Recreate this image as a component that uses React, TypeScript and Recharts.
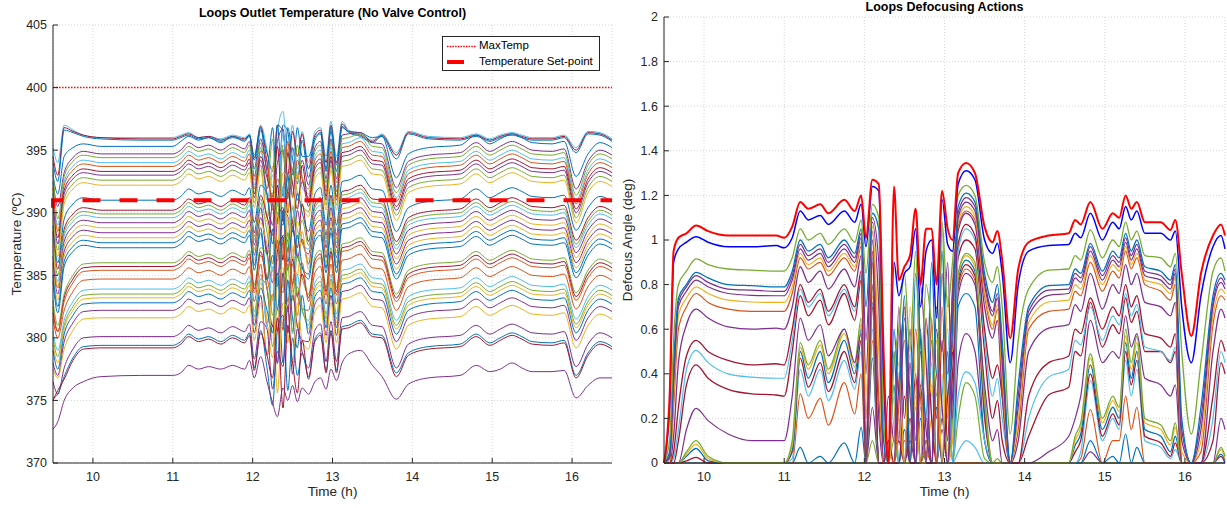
import React from 'react';
import { LineChart, Line, XAxis, YAxis, CartesianGrid, Legend } from 'recharts';

const FONT = '"Liberation Sans", Arial, Helvetica, sans-serif';
const INK = '#262626';
const GRID = '#d4d4d4';

// ---------- axes ----------
const HOUR_TICKS = [10, 11, 12, 13, 14, 15, 16];
const TEMP_TICKS = [370, 375, 380, 385, 390, 395, 400, 405];
const ANGLE_TICKS = [0, 0.2, 0.4, 0.6, 0.8, 1, 1.2, 1.4, 1.6, 1.8, 2];
const MAX_TEMP = 400;
const SET_POINT = 391;
const SET_POINT_START = 390.4;

// ---------- outlet temperatures (ºC) ----------
const TIME_T = [9.5, 9.56, 9.64, 9.75, 9.88, 10.1, 10.6, 11.0, 11.1, 11.2, 11.32, 11.45, 11.6, 11.75, 11.9, 11.96, 12.02, 12.1, 12.18, 12.25, 12.31, 12.38, 12.44, 12.5, 12.56, 12.62, 12.7, 12.78, 12.85, 12.92, 12.98, 13.05, 13.12, 13.2, 13.35, 13.5, 13.62, 13.8, 13.95, 14.2, 14.6, 14.8, 14.97, 15.1, 15.25, 15.37, 15.5, 15.75, 15.9, 16.05, 16.2, 16.35, 16.5];

const LOOP_TEMPS: number[][] = [
  [395.2, 394.0, 397.0, 396.6, 396.2, 396.0, 396.0, 396.0, 396.2, 396.4, 396.0, 396.1, 395.9, 396.2, 396.0, 396.3, 394.6, 397.0, 395.0, 392.0, 396.5, 398.1, 394.5, 397.0, 393.5, 396.5, 394.0, 396.5, 396.8, 394.5, 397.3, 394.5, 397.3, 396.6, 396.3, 395.8, 396.3, 394.8, 396.5, 396.1, 396.0, 396.3, 395.9, 396.2, 396.4, 396.2, 396.0, 396.0, 396.2, 395.2, 396.5, 396.4, 395.9],
  [394.5, 393.0, 396.8, 396.5, 396.2, 396.0, 395.9, 395.9, 396.1, 396.3, 396.0, 396.1, 395.8, 396.1, 395.9, 396.2, 394.4, 396.9, 394.0, 391.0, 397.0, 396.5, 393.0, 396.5, 394.5, 396.3, 393.5, 396.2, 396.6, 394.0, 397.0, 394.0, 397.1, 396.5, 396.2, 395.7, 396.2, 394.6, 396.4, 396.0, 395.9, 396.2, 395.8, 396.1, 396.3, 396.1, 395.9, 395.9, 396.1, 395.0, 396.4, 396.3, 395.8],
  [394.0, 392.5, 396.6, 396.4, 396.1, 395.9, 395.8, 395.8, 396.0, 396.2, 395.9, 396.0, 395.7, 396.0, 395.8, 396.1, 394.2, 396.8, 393.5, 396.8, 391.0, 397.0, 396.5, 393.0, 396.8, 394.5, 394.5, 396.0, 396.4, 393.5, 396.8, 393.8, 396.9, 396.4, 396.1, 395.6, 396.1, 394.3, 396.3, 395.9, 395.8, 396.1, 395.7, 396.0, 396.2, 396.0, 395.8, 395.8, 396.0, 394.8, 396.3, 396.2, 395.7],
  [393.0, 391.5, 394.5, 395.2, 395.5, 395.3, 395.3, 395.3, 395.7, 396.1, 395.8, 396.0, 395.6, 396.1, 395.7, 396.2, 393.5, 396.6, 394.8, 393.3, 397.0, 391.3, 396.8, 394.3, 392.3, 395.8, 392.8, 395.8, 396.3, 393.3, 396.5, 393.3, 396.8, 396.5, 396.4, 396.0, 396.1, 392.8, 394.7, 395.2, 395.4, 396.2, 395.5, 395.9, 396.3, 396.0, 395.6, 395.5, 395.7, 392.9, 394.7, 395.6, 395.2],
  [392.5, 390.5, 393.2, 394.4, 394.9, 394.7, 394.7, 394.7, 395.0, 395.6, 395.2, 395.4, 395.0, 395.5, 395.1, 395.7, 392.9, 395.9, 393.2, 390.7, 395.7, 396.7, 391.7, 395.2, 392.7, 394.2, 392.2, 395.2, 395.7, 392.7, 395.9, 392.7, 396.2, 396.3, 396.4, 395.6, 395.5, 392.0, 394.1, 394.6, 394.8, 395.6, 394.9, 395.3, 395.7, 395.4, 395.0, 394.9, 395.1, 391.9, 394.1, 395.0, 394.6],
  [393.5, 389.5, 392.9, 394.1, 394.6, 394.4, 394.4, 394.4, 394.7, 395.3, 394.9, 395.1, 394.7, 395.2, 394.8, 395.4, 392.6, 395.6, 391.9, 395.9, 389.4, 395.4, 394.9, 391.4, 395.4, 392.9, 391.9, 394.9, 395.4, 392.4, 395.6, 392.4, 395.9, 396.0, 396.3, 395.3, 395.2, 391.6, 393.8, 394.3, 394.5, 395.3, 394.6, 395.0, 395.4, 395.1, 394.7, 394.6, 394.8, 391.4, 393.8, 394.7, 394.3],
  [391.5, 389.0, 392.5, 393.7, 394.2, 394.0, 394.0, 394.0, 394.3, 394.9, 394.5, 394.7, 394.3, 394.8, 394.4, 395.0, 392.2, 395.2, 391.0, 393.0, 390.5, 396.5, 392.5, 395.0, 393.0, 392.0, 391.5, 394.5, 395.0, 392.0, 395.2, 392.0, 395.5, 395.6, 396.0, 394.9, 394.8, 391.2, 393.4, 393.9, 394.1, 394.9, 394.2, 394.6, 395.0, 394.7, 394.3, 394.2, 394.4, 391.0, 393.4, 394.3, 393.9],
  [392.0, 388.5, 392.2, 393.4, 393.9, 393.7, 393.7, 393.7, 394.0, 394.6, 394.2, 394.4, 394.0, 394.5, 394.1, 394.7, 391.9, 394.9, 394.2, 390.2, 392.7, 391.7, 395.7, 391.2, 394.2, 392.7, 391.2, 394.2, 394.7, 391.7, 394.9, 391.7, 395.2, 395.3, 395.7, 394.6, 394.5, 390.9, 393.1, 393.6, 393.8, 394.6, 393.9, 394.3, 394.7, 394.4, 394.0, 393.9, 394.1, 390.7, 393.1, 394.0, 393.6],
  [390.5, 388.0, 391.8, 393.0, 393.5, 393.3, 393.3, 393.3, 393.6, 394.2, 393.8, 394.0, 393.6, 394.1, 393.7, 394.3, 391.5, 394.5, 392.8, 391.3, 395.3, 389.3, 394.8, 392.3, 390.3, 393.8, 390.8, 393.8, 394.3, 391.3, 394.5, 391.3, 394.8, 394.9, 395.3, 394.2, 394.1, 390.5, 392.7, 393.2, 393.4, 394.2, 393.5, 393.9, 394.3, 394.0, 393.6, 393.5, 393.7, 390.3, 392.7, 393.6, 393.2],
  [391.0, 387.5, 391.5, 392.7, 393.2, 393.0, 393.0, 393.0, 393.3, 393.9, 393.5, 393.7, 393.3, 393.8, 393.4, 394.0, 391.2, 394.2, 391.5, 389.0, 394.0, 395.0, 390.0, 393.5, 391.0, 392.5, 390.5, 393.5, 394.0, 391.0, 394.2, 391.0, 394.5, 394.6, 395.0, 393.9, 393.8, 390.2, 392.4, 392.9, 393.1, 393.9, 393.2, 393.6, 394.0, 393.7, 393.3, 393.2, 393.4, 390.0, 392.4, 393.3, 392.9],
  [390.0, 387.0, 391.1, 392.3, 392.8, 392.6, 392.6, 392.6, 392.9, 393.5, 393.1, 393.3, 392.9, 393.4, 393.0, 393.6, 390.8, 393.8, 389.6, 391.6, 389.1, 395.1, 391.1, 393.6, 391.6, 390.6, 390.1, 393.1, 393.6, 390.6, 393.8, 390.6, 394.1, 394.2, 394.6, 393.5, 393.4, 389.8, 392.0, 392.5, 392.7, 393.5, 392.8, 393.2, 393.6, 393.3, 392.9, 392.8, 393.0, 389.6, 392.0, 392.9, 392.5],
  [389.5, 386.5, 390.7, 391.9, 392.4, 392.2, 392.2, 392.2, 392.5, 393.1, 392.7, 392.9, 392.5, 393.0, 392.6, 393.2, 390.4, 393.4, 389.7, 393.7, 387.2, 393.2, 392.7, 389.2, 393.2, 390.7, 389.7, 392.7, 393.2, 390.2, 393.4, 390.2, 393.7, 393.8, 394.2, 393.1, 393.0, 389.4, 391.6, 392.1, 392.3, 393.1, 392.4, 392.8, 393.2, 392.9, 392.5, 392.4, 392.6, 389.2, 391.6, 392.5, 392.1],
  [389.0, 386.0, 389.5, 390.7, 391.2, 391.0, 391.0, 391.0, 391.3, 391.9, 391.5, 391.7, 391.3, 391.8, 391.4, 392.0, 389.2, 392.2, 391.5, 387.5, 390.0, 389.0, 393.0, 388.5, 391.5, 390.0, 388.5, 391.5, 392.0, 389.0, 392.2, 389.0, 392.5, 392.6, 393.0, 391.9, 391.8, 388.5, 390.4, 390.9, 391.1, 391.9, 391.2, 391.6, 392.0, 391.7, 391.3, 391.2, 391.4, 388.6, 390.4, 391.3, 390.9],
  [388.5, 385.5, 388.7, 389.9, 390.4, 390.2, 390.2, 390.2, 390.5, 391.1, 390.7, 390.9, 390.5, 391.0, 390.6, 391.2, 388.4, 391.4, 389.7, 388.2, 392.2, 386.2, 391.7, 389.2, 387.2, 390.7, 387.7, 390.7, 391.2, 388.2, 391.4, 388.2, 391.7, 391.8, 392.2, 391.1, 391.0, 387.7, 389.6, 390.1, 390.3, 391.1, 390.4, 390.8, 391.2, 390.9, 390.5, 390.4, 390.6, 387.8, 389.6, 390.5, 390.1],
  [388.0, 385.0, 388.4, 389.6, 390.1, 389.9, 389.9, 389.9, 390.2, 390.8, 390.4, 390.6, 390.2, 390.7, 390.3, 390.9, 388.1, 391.1, 388.4, 385.9, 390.9, 391.9, 386.9, 390.4, 387.9, 389.4, 387.4, 390.4, 390.9, 387.9, 391.1, 387.9, 391.4, 391.5, 391.9, 390.8, 390.7, 387.4, 389.3, 389.8, 390.0, 390.8, 390.1, 390.5, 390.9, 390.6, 390.2, 390.1, 390.3, 387.5, 389.3, 390.2, 389.8],
  [387.0, 384.5, 388.1, 389.3, 389.8, 389.6, 389.6, 389.6, 389.9, 390.5, 390.1, 390.3, 389.9, 390.4, 390.0, 390.6, 387.8, 390.8, 386.6, 388.6, 386.1, 392.1, 388.1, 390.6, 388.6, 387.6, 387.1, 390.1, 390.6, 387.6, 390.8, 387.6, 391.1, 391.2, 391.6, 390.5, 390.4, 387.1, 389.0, 389.5, 389.7, 390.5, 389.8, 390.2, 390.6, 390.3, 389.9, 389.8, 390.0, 387.2, 389.0, 389.9, 389.5],
  [386.5, 384.0, 387.7, 388.9, 389.4, 389.2, 389.2, 389.2, 389.5, 390.1, 389.7, 389.9, 389.5, 390.0, 389.6, 390.2, 387.4, 390.4, 386.7, 390.7, 384.2, 390.2, 389.7, 386.2, 390.2, 387.7, 386.7, 389.7, 390.2, 387.2, 390.4, 387.2, 390.7, 390.8, 391.2, 390.1, 390.0, 386.7, 388.6, 389.1, 389.3, 390.1, 389.4, 389.8, 390.2, 389.9, 389.5, 389.4, 389.6, 386.8, 388.6, 389.5, 389.1],
  [387.5, 384.0, 387.3, 388.5, 389.0, 388.8, 388.8, 388.8, 389.1, 389.7, 389.3, 389.5, 389.1, 389.6, 389.2, 389.8, 387.0, 390.0, 389.3, 385.3, 387.8, 386.8, 390.8, 386.3, 389.3, 387.8, 386.3, 389.3, 389.8, 386.8, 390.0, 386.8, 390.3, 390.4, 390.8, 389.7, 389.6, 386.3, 388.2, 388.7, 388.9, 389.7, 389.0, 389.4, 389.8, 389.5, 389.1, 389.0, 389.2, 386.4, 388.2, 389.1, 388.7],
  [386.0, 383.5, 386.9, 388.1, 388.6, 388.4, 388.4, 388.4, 388.7, 389.3, 388.9, 389.1, 388.7, 389.2, 388.8, 389.4, 386.6, 389.6, 386.9, 384.4, 389.4, 390.4, 385.4, 388.9, 386.4, 387.9, 385.9, 388.9, 389.4, 386.4, 389.6, 386.4, 389.9, 390.0, 390.4, 389.3, 389.2, 385.9, 387.8, 388.3, 388.5, 389.3, 388.6, 389.0, 389.4, 389.1, 388.7, 388.6, 388.8, 386.0, 387.8, 388.7, 388.3],
  [385.5, 383.0, 386.5, 387.7, 388.2, 388.0, 388.0, 388.0, 388.3, 388.9, 388.5, 388.7, 388.3, 388.8, 388.4, 389.0, 386.2, 389.2, 387.5, 386.0, 390.0, 384.0, 389.5, 387.0, 385.0, 388.5, 385.5, 388.5, 389.0, 386.0, 389.2, 386.0, 389.5, 389.6, 390.0, 388.9, 388.8, 385.5, 387.4, 387.9, 388.1, 388.9, 388.2, 388.6, 389.0, 388.7, 388.3, 388.2, 388.4, 385.6, 387.4, 388.3, 387.9],
  [385.0, 382.5, 386.1, 387.3, 387.8, 387.6, 387.6, 387.6, 387.9, 388.5, 388.1, 388.3, 387.9, 388.4, 388.0, 388.6, 385.8, 388.8, 384.6, 386.6, 384.1, 390.1, 386.1, 388.6, 386.6, 385.6, 385.1, 388.1, 388.6, 385.6, 388.8, 385.6, 389.1, 389.2, 389.6, 388.5, 388.4, 385.1, 387.0, 387.5, 387.7, 388.5, 387.8, 388.2, 388.6, 388.3, 387.9, 387.8, 388.0, 385.2, 387.0, 387.9, 387.5],
  [384.5, 382.0, 385.7, 386.9, 387.4, 387.2, 387.2, 387.2, 387.5, 388.1, 387.7, 387.9, 387.5, 388.0, 387.6, 388.2, 385.4, 388.4, 384.7, 388.7, 382.2, 388.2, 387.7, 384.2, 388.2, 385.7, 384.7, 387.7, 388.2, 385.2, 388.4, 385.2, 388.7, 388.8, 389.2, 388.1, 388.0, 384.7, 386.6, 387.1, 387.3, 388.1, 387.4, 387.8, 388.2, 387.9, 387.5, 387.4, 387.6, 384.8, 386.6, 387.5, 387.1],
  [383.0, 381.0, 383.5, 385.0, 385.9, 386.0, 386.0, 386.0, 386.3, 386.9, 386.5, 386.7, 386.3, 386.8, 386.4, 387.0, 384.2, 387.2, 386.6, 381.8, 384.8, 383.6, 388.4, 383.0, 386.6, 384.8, 383.5, 386.5, 387.0, 384.0, 387.2, 384.0, 387.5, 387.6, 388.0, 386.9, 386.8, 383.5, 385.4, 385.9, 386.1, 386.9, 386.2, 386.6, 387.0, 386.7, 386.3, 386.2, 386.4, 383.6, 385.4, 386.3, 385.9],
  [382.0, 380.5, 383.2, 384.7, 385.6, 385.7, 385.7, 385.7, 386.0, 386.6, 386.2, 386.4, 386.0, 386.5, 386.1, 386.7, 383.9, 386.9, 383.9, 380.9, 386.9, 388.1, 382.1, 386.3, 383.3, 385.1, 383.2, 386.2, 386.7, 383.7, 386.9, 383.7, 387.2, 387.3, 387.7, 386.6, 386.5, 383.2, 385.1, 385.6, 385.8, 386.6, 385.9, 386.3, 386.7, 386.4, 386.0, 385.9, 386.1, 383.3, 385.1, 386.0, 385.6],
  [382.5, 380.5, 382.9, 384.4, 385.3, 385.4, 385.4, 385.4, 385.7, 386.3, 385.9, 386.1, 385.7, 386.2, 385.8, 386.4, 383.6, 386.6, 384.8, 383.0, 387.8, 380.6, 387.2, 384.2, 381.8, 386.0, 382.9, 385.9, 386.4, 383.4, 386.6, 383.4, 386.9, 387.0, 387.4, 386.3, 386.2, 382.9, 384.8, 385.3, 385.5, 386.3, 385.6, 386.0, 386.4, 386.1, 385.7, 385.6, 385.8, 383.0, 384.8, 385.7, 385.3],
  [381.5, 380.0, 382.2, 383.7, 384.6, 384.7, 384.7, 384.7, 385.0, 385.6, 385.2, 385.4, 385.0, 385.5, 385.1, 385.7, 382.9, 385.9, 381.1, 383.5, 380.5, 387.7, 382.9, 385.9, 383.5, 382.3, 382.2, 385.2, 385.7, 382.7, 385.9, 382.7, 386.2, 386.3, 386.7, 385.6, 385.5, 382.2, 384.1, 384.6, 384.8, 385.6, 384.9, 385.3, 385.7, 385.4, 385.0, 384.9, 385.1, 382.3, 384.1, 385.0, 384.6],
  [380.5, 379.0, 381.4, 382.9, 383.8, 383.9, 383.9, 383.9, 384.2, 384.8, 384.4, 384.6, 384.2, 384.7, 384.3, 384.9, 382.1, 385.1, 380.9, 385.7, 377.9, 385.1, 384.5, 380.3, 385.1, 382.1, 381.4, 384.4, 384.9, 381.9, 385.1, 381.9, 385.4, 385.5, 385.9, 384.8, 384.7, 381.4, 383.3, 383.8, 384.0, 384.8, 384.1, 384.5, 384.9, 384.6, 384.2, 384.1, 384.3, 381.5, 383.3, 384.2, 383.8],
  [380.0, 378.5, 381.0, 382.5, 383.4, 383.5, 383.5, 383.5, 383.8, 384.4, 384.0, 384.2, 383.8, 384.3, 383.9, 384.5, 381.7, 384.7, 384.1, 379.3, 382.3, 381.1, 385.9, 380.5, 384.1, 382.3, 381.0, 384.0, 384.5, 381.5, 384.7, 381.5, 385.0, 385.1, 385.5, 384.4, 384.3, 381.0, 382.9, 383.4, 383.6, 384.4, 383.7, 384.1, 384.5, 384.2, 383.8, 383.7, 383.9, 381.1, 382.9, 383.8, 383.4],
  [379.5, 378.0, 380.7, 382.2, 383.1, 383.2, 383.2, 383.2, 383.5, 384.1, 383.7, 383.9, 383.5, 384.0, 383.6, 384.2, 381.4, 384.4, 381.4, 378.4, 384.4, 385.6, 379.6, 383.8, 380.8, 382.6, 380.7, 383.7, 384.2, 381.2, 384.4, 381.2, 384.7, 384.8, 385.2, 384.1, 384.0, 380.7, 382.6, 383.1, 383.3, 384.1, 383.4, 383.8, 384.2, 383.9, 383.5, 383.4, 383.6, 380.8, 382.6, 383.5, 383.1],
  [379.0, 377.5, 380.3, 381.8, 382.7, 382.8, 382.8, 382.8, 383.1, 383.7, 383.3, 383.5, 383.1, 383.6, 383.2, 383.8, 381.0, 384.0, 382.2, 380.4, 385.2, 378.0, 384.6, 381.6, 379.2, 383.4, 380.3, 383.3, 383.8, 380.8, 384.0, 380.8, 384.3, 384.4, 384.8, 383.7, 383.6, 380.3, 382.2, 382.7, 382.9, 383.7, 383.0, 383.4, 383.8, 383.5, 383.1, 383.0, 383.2, 380.4, 382.2, 383.1, 382.7],
  [378.0, 377.0, 379.7, 381.2, 382.1, 382.2, 382.2, 382.2, 382.5, 383.1, 382.7, 382.9, 382.5, 383.0, 382.6, 383.2, 380.4, 383.4, 378.6, 381.0, 378.0, 385.2, 380.4, 383.4, 381.0, 379.8, 379.7, 382.7, 383.2, 380.2, 383.4, 380.2, 383.7, 383.8, 384.2, 383.1, 383.0, 379.7, 381.6, 382.1, 382.3, 383.1, 382.4, 382.8, 383.2, 382.9, 382.5, 382.4, 382.6, 379.8, 381.6, 382.5, 382.1],
  [377.5, 376.8, 379.1, 380.6, 381.5, 381.6, 381.6, 381.6, 381.9, 382.5, 382.1, 382.3, 381.9, 382.4, 382.0, 382.6, 379.8, 382.8, 378.6, 383.4, 375.6, 382.8, 382.2, 378.0, 382.8, 379.8, 379.1, 382.1, 382.6, 379.6, 382.8, 379.6, 383.1, 383.2, 383.6, 382.5, 382.4, 379.1, 381.0, 381.5, 381.7, 382.5, 381.8, 382.2, 382.6, 382.3, 381.9, 381.8, 382.0, 379.2, 381.0, 381.9, 381.5],
  [376.5, 375.5, 377.6, 379.1, 380.0, 380.1, 380.1, 380.1, 380.4, 381.0, 380.6, 380.8, 380.4, 380.9, 380.5, 381.1, 378.3, 381.3, 380.7, 375.9, 378.9, 377.7, 382.5, 377.1, 380.7, 378.9, 377.6, 380.6, 381.1, 378.1, 381.3, 378.1, 381.6, 381.7, 382.1, 381.0, 380.9, 377.6, 379.5, 380.0, 380.2, 381.0, 380.3, 380.7, 381.1, 380.8, 380.4, 380.3, 380.5, 377.7, 379.5, 380.4, 380.0],
  [375.2, 375.5, 376.9, 378.4, 379.3, 379.4, 379.4, 379.4, 379.7, 380.3, 379.9, 380.1, 379.7, 380.2, 379.8, 380.4, 377.6, 380.6, 377.6, 374.6, 380.6, 381.8, 375.8, 380.0, 377.0, 378.8, 376.9, 379.9, 380.4, 377.4, 380.6, 377.4, 380.9, 381.0, 381.4, 380.3, 380.2, 377.2, 378.8, 379.3, 379.5, 380.3, 379.6, 380.0, 380.4, 380.1, 379.7, 379.6, 379.8, 377.0, 378.8, 379.7, 379.3],
  [375.0, 375.8, 376.7, 378.2, 379.1, 379.2, 379.2, 379.2, 379.5, 380.1, 379.7, 379.9, 379.5, 380.0, 379.6, 380.2, 377.4, 380.4, 378.6, 376.8, 381.6, 374.4, 381.0, 378.0, 375.6, 379.8, 376.7, 379.7, 380.2, 377.2, 380.4, 377.2, 380.7, 380.8, 381.2, 380.1, 380.0, 376.9, 378.6, 379.1, 379.3, 380.1, 379.4, 379.8, 380.2, 379.9, 379.5, 379.4, 379.6, 376.8, 378.6, 379.5, 379.1],
  [372.7, 373.3, 375.0, 376.0, 376.5, 376.9, 377.0, 377.0, 377.2, 377.8, 377.5, 377.7, 377.5, 377.8, 377.5, 378.2, 376.8, 378.5, 376.5, 374.8, 373.7, 376.0, 375.0, 376.2, 374.9, 376.0, 375.5, 376.5, 376.8, 375.9, 377.5, 376.6, 378.0, 378.7, 379.0, 377.8, 376.9, 375.1, 376.3, 376.8, 377.0, 377.8, 377.3, 377.5, 378.0, 377.6, 377.3, 377.3, 377.4, 375.2, 376.2, 376.8, 376.8],
];

const LOOP_TEMP_COLORS = [
  '#4DBEEE', '#A2142F', '#0072BD', '#0072BD', '#7E2F8E', '#77AC30', '#4DBEEE', '#D95319', '#A2142F',
  '#7E2F8E', '#77AC30', '#EDB120', '#0072BD', '#A2142F', '#77AC30', '#4DBEEE', '#7E2F8E', '#EDB120',
  '#7E2F8E', '#EDB120', '#0072BD', '#0072BD', '#77AC30', '#A2142F', '#D95319', '#D95319', '#4DBEEE',
  '#77AC30', '#EDB120', '#0072BD', '#7E2F8E', '#EDB120', '#7E2F8E', '#0072BD', '#A2142F', '#7E2F8E',
];

// ---------- defocus angles (deg) ----------
const TIME_D = [9.5, 9.57, 9.62, 9.68, 9.78, 9.9, 10.05, 10.3, 10.6, 10.9, 11.0, 11.1, 11.2, 11.3, 11.45, 11.55, 11.75, 11.88, 11.96, 12.02, 12.1, 12.18, 12.24, 12.3, 12.37, 12.43, 12.5, 12.57, 12.64, 12.7, 12.77, 12.84, 12.9, 12.97, 13.04, 13.1, 13.17, 13.27, 13.38, 13.5, 13.6, 13.66, 13.72, 13.82, 13.92, 14.05, 14.3, 14.55, 14.63, 14.7, 14.82, 14.97, 15.1, 15.18, 15.26, 15.33, 15.4, 15.5, 15.7, 15.82, 15.88, 15.96, 16.08, 16.2, 16.35, 16.45, 16.5];

const DEFOCUS: number[][] = [
  [0, 0, 0, 0, 0, 0, 0, 0, 0, 0, 0, 0, 0, 0, 0, 0, 0, 0, 0, 0, 0, 0, 0, 0, 0, 0, 0, 0, 0, 0, 0, 0, 0, 0, 0, 0, 0, 0, 0, 0, 0, 0, 0, 0, 0, 0, 0, 0, 0, 0, 0, 0, 0, 0, 0, 0, 0, 0, 0, 0, 0, 0, 0, 0, 0, 0, 0],
  [0, 0, 0, 0, 0, 0, 0, 0, 0, 0, 0, 0, 0, 0, 0, 0, 0, 0, 0, 0, 0, 0, 0, 0, 0, 0, 0, 0, 0, 0, 0, 0, 0, 0, 0, 0, 0.05, 0.1, 0.07, 0, 0, 0, 0, 0, 0, 0, 0, 0, 0, 0, 0, 0, 0, 0, 0, 0, 0, 0, 0, 0, 0, 0, 0, 0, 0, 0, 0],
  [0, 0, 0, 0, 0, 0, 0, 0, 0, 0, 0, 0, 0, 0, 0, 0, 0, 0, 0, 0, 0.25, 0, 0, 0, 0, 0, 0, 0, 0, 0, 0, 0, 0, 0, 0, 0, 0.45, 0.58, 0.5, 0.1, 0, 0, 0, 0, 0, 0, 0, 0, 0, 0, 0.05, 0, 0, 0, 0, 0, 0, 0, 0, 0, 0, 0, 0, 0, 0, 0, 0],
  [0, 0, 0, 0, 0, 0, 0, 0, 0, 0, 0, 0, 0, 0, 0, 0, 0, 0, 0, 0, 0.1, 0, 0, 0, 0, 0, 0, 0, 0, 0, 0, 0, 0, 0, 0, 0, 0.2, 0.36, 0.3, 0.02, 0, 0, 0, 0, 0, 0, 0, 0, 0, 0, 0, 0, 0, 0, 0, 0, 0, 0, 0, 0, 0, 0, 0, 0, 0, 0, 0],
  [0, 0, 0, 0, 0, 0, 0, 0, 0, 0, 0, 0, 0.07, 0, 0.03, 0, 0.09, 0, 0.16, 0, 0.47, 0, 0, 0, 0, 0, 0, 0, 0, 0, 0, 0, 0, 0, 0, 0, 0.7, 0.76, 0.7, 0.1, 0, 0, 0, 0, 0, 0, 0, 0, 0, 0, 0.1, 0, 0.03, 0, 0.13, 0, 0.07, 0, 0, 0, 0, 0, 0, 0, 0, 0, 0],
  [0, 0, 0, 0, 0, 0, 0, 0, 0, 0, 0, 0, 0.31, 0.2, 0.29, 0.17, 0.36, 0.22, 0.4, 0, 0.55, 0, 0, 0, 0, 0, 0.1, 0, 0, 0, 0.05, 0, 0, 0, 0, 0, 0.78, 0.87, 0.82, 0.2, 0, 0, 0, 0, 0, 0, 0, 0, 0, 0.02, 0.24, 0, 0.1, 0.1, 0.3, 0.15, 0.25, 0, 0, 0, 0, 0, 0, 0, 0, 0, 0],
  [0, 0, 0, 0, 0, 0, 0, 0, 0, 0, 0, 0.02, 0.42, 0.3, 0.42, 0.28, 0.46, 0.33, 0.5, 0, 0.6, 0, 0, 0, 0, 0, 0, 0, 0.25, 0, 0, 0.35, 0, 0, 0, 0, 0.3, 0.41, 0.36, 0.1, 0, 0, 0, 0, 0, 0, 0, 0, 0, 0.05, 0.37, 0.1, 0.2, 0.15, 0.46, 0.3, 0.42, 0.1, 0.07, 0.02, 0.06, 0, 0, 0, 0, 0, 0],
  [0, 0, 0, 0, 0.01, 0.025, 0, 0, 0, 0, 0, 0.05, 0.47, 0.34, 0.45, 0.32, 0.5, 0.36, 0.55, 0, 0.7, 0, 0, 0, 0, 0.1, 0, 0.2, 0, 0, 0.1, 0, 0, 0.2, 0, 0.4, 0.8, 0.89, 0.84, 0.22, 0, 0, 0, 0, 0, 0, 0, 0, 0.05, 0.1, 0.4, 0.12, 0.22, 0.17, 0.5, 0.35, 0.46, 0.12, 0.09, 0.03, 0.09, 0, 0, 0, 0, 0.03, 0],
  [0, 0, 0, 0, 0.03, 0.065, 0.01, 0, 0, 0, 0, 0.06, 0.5, 0.38, 0.5, 0.36, 0.55, 0.4, 0.6, 0, 0.72, 0, 0, 0, 0.35, 0, 0.15, 0, 0, 0.2, 0, 0, 0.25, 0, 0.5, 0, 0.82, 0.91, 0.86, 0.25, 0, 0, 0, 0, 0, 0, 0, 0, 0.08, 0.13, 0.44, 0.15, 0.25, 0.2, 0.54, 0.38, 0.5, 0.15, 0.12, 0.05, 0.12, 0, 0, 0, 0, 0.04, 0.01],
  [0, 0, 0, 0, 0.04, 0.085, 0.02, 0, 0, 0, 0, 0.08, 0.52, 0.42, 0.53, 0.4, 0.58, 0.43, 0.62, 0, 0.75, 0, 0, 0.05, 0, 0.2, 0, 0, 0.3, 0, 0, 0.2, 0, 0.4, 0, 0.1, 0.84, 0.93, 0.88, 0.28, 0, 0, 0, 0, 0, 0, 0, 0, 0.1, 0.16, 0.47, 0.18, 0.28, 0.23, 0.57, 0.42, 0.54, 0.18, 0.15, 0.08, 0.16, 0, 0, 0, 0, 0.06, 0.02],
  [0, 0, 0, 0, 0.05, 0.1, 0.03, 0, 0, 0, 0, 0.1, 0.54, 0.44, 0.55, 0.42, 0.6, 0.45, 0.65, 0, 0.79, 0, 0, 0, 0.1, 0, 0, 0.35, 0, 0, 0.1, 0, 0, 1.08, 0, 0.2, 0.85, 0.94, 0.9, 0.3, 0, 0.02, 0, 0, 0, 0, 0, 0, 0.12, 0.18, 0.49, 0.2, 0.3, 0.25, 0.6, 0.45, 0.57, 0.2, 0.17, 0.1, 0.18, 0, 0, 0, 0, 0.07, 0.03],
  [0, 0, 0, 0, 0.15, 0.245, 0.19, 0.13, 0.1, 0.1, 0.1, 0.3, 0.65, 0.55, 0.62, 0.48, 0.6, 0.45, 0.58, 0, 0.8, 0, 0, 0, 0, 0, 0, 0.1, 0, 0, 0.2, 0, 0, 0.15, 0, 0.3, 0.75, 0.85, 0.8, 0.35, 0.1, 0.15, 0, 0, 0, 0, 0.05, 0.12, 0.2, 0.3, 0.64, 0.45, 0.5, 0.47, 0.66, 0.52, 0.58, 0.38, 0.35, 0.3, 0.35, 0, 0, 0, 0, 0.2, 0.15],
  [0, 0, 0, 0.1, 0.35, 0.44, 0.38, 0.33, 0.31, 0.305, 0.3, 0.5, 0.75, 0.66, 0.73, 0.62, 0.76, 0.64, 0.82, 0, 0.9, 0, 0, 0, 0, 0, 0.3, 0, 0, 0.35, 0, 0, 0.4, 0, 0.3, 0.5, 0.92, 1.0, 0.96, 0.5, 0.2, 0.28, 0.1, 0, 0, 0.12, 0.305, 0.34, 0.5, 0.48, 0.72, 0.52, 0.62, 0.58, 0.74, 0.63, 0.68, 0.5, 0.5, 0.45, 0.5, 0, 0, 0, 0.1, 0.45, 0.4],
  [0, 0, 0.02, 0.15, 0.42, 0.505, 0.45, 0.4, 0.385, 0.38, 0.38, 0.55, 0.78, 0.7, 0.76, 0.66, 0.78, 0.68, 0.84, 0, 0.92, 0, 0, 0, 0.3, 0, 0, 0.5, 0, 0.25, 0, 0.45, 0, 0.3, 0.6, 0, 0.95, 1.05, 1.0, 0.55, 0.3, 0.38, 0.2, 0, 0, 0.2, 0.385, 0.42, 0.55, 0.53, 0.7, 0.55, 0.66, 0.62, 0.76, 0.66, 0.71, 0.52, 0.5, 0.46, 0.52, 0, 0, 0, 0.2, 0.5, 0.45],
  [0, 0, 0.05, 0.25, 0.48, 0.55, 0.5, 0.46, 0.44, 0.445, 0.44, 0.6, 0.8, 0.72, 0.78, 0.68, 0.8, 0.7, 0.86, 0, 0.95, 0, 0, 0.1, 0, 0.35, 0.7, 0, 0.4, 0, 0.65, 0.2, 0, 0.55, 0.1, 0.75, 0.98, 1.07, 1.02, 0.6, 0.38, 0.44, 0.3, 0, 0, 0.3, 0.45, 0.48, 0.6, 0.58, 0.74, 0.6, 0.7, 0.66, 0.8, 0.7, 0.75, 0.58, 0.56, 0.52, 0.58, 0, 0, 0, 0.3, 0.55, 0.5],
  [0, 0, 0.12, 0.45, 0.62, 0.69, 0.65, 0.61, 0.6, 0.605, 0.6, 0.7, 0.88, 0.81, 0.86, 0.78, 0.87, 0.79, 0.93, 0.1, 1.0, 0.2, 0, 0, 0, 0.6, 0, 0.45, 0, 0.5, 0.15, 0, 0.6, 0.25, 0, 0.65, 1.04, 1.12, 1.07, 0.7, 0.56, 0.64, 0.3, 0, 0.1, 0.5, 0.605, 0.62, 0.71, 0.68, 0.85, 0.69, 0.8, 0.76, 0.89, 0.8, 0.85, 0.72, 0.7, 0.66, 0.72, 0, 0, 0, 0.5, 0.69, 0.65],
  [0, 0, 0.25, 0.6, 0.7, 0.76, 0.72, 0.69, 0.68, 0.68, 0.68, 0.76, 0.92, 0.87, 0.9, 0.84, 0.92, 0.86, 0.97, 0.2, 1.04, 0.3, 0, 0, 0, 0.25, 0.55, 0.1, 0.6, 0.3, 0, 0.65, 0, 0.7, 0.2, 0.8, 1.06, 1.13, 1.09, 0.75, 0.6, 0.69, 0.35, 0, 0.15, 0.6, 0.68, 0.69, 0.77, 0.75, 0.9, 0.77, 0.86, 0.83, 0.95, 0.87, 0.92, 0.8, 0.77, 0.73, 0.8, 0, 0, 0.05, 0.62, 0.75, 0.73],
  [0, 0.01, 0.3, 0.66, 0.74, 0.79, 0.76, 0.73, 0.722, 0.72, 0.72, 0.79, 0.94, 0.89, 0.92, 0.86, 0.94, 0.88, 0.99, 0.3, 1.06, 0.5, 0, 0, 0.2, 0.45, 0, 0.7, 0.35, 0, 0.6, 0.3, 0.55, 0, 0.75, 0.5, 1.08, 1.15, 1.11, 0.77, 0.62, 0.71, 0.4, 0, 0.2, 0.63, 0.722, 0.73, 0.8, 0.78, 0.93, 0.8, 0.89, 0.86, 0.97, 0.89, 0.94, 0.82, 0.8, 0.76, 0.83, 0.05, 0, 0.1, 0.66, 0.78, 0.76],
  [0, 0.02, 0.35, 0.7, 0.77, 0.82, 0.79, 0.76, 0.752, 0.75, 0.75, 0.82, 0.96, 0.91, 0.94, 0.88, 0.96, 0.9, 1.01, 0.4, 1.08, 0.7, 0, 0, 0.5, 0.1, 0.65, 0.3, 0, 0.6, 0, 0.55, 0.2, 0.85, 0.4, 0.75, 1.1, 1.17, 1.13, 0.8, 0.66, 0.74, 0.45, 0, 0.25, 0.66, 0.752, 0.76, 0.83, 0.81, 0.95, 0.82, 0.91, 0.88, 0.99, 0.91, 0.96, 0.84, 0.82, 0.78, 0.85, 0.1, 0, 0.15, 0.7, 0.81, 0.78],
  [0, 0.03, 0.4, 0.72, 0.79, 0.84, 0.81, 0.78, 0.775, 0.77, 0.77, 0.84, 0.98, 0.93, 0.96, 0.9, 0.98, 0.92, 1.03, 0.55, 1.1, 0.9, 0, 0.3, 0.1, 0.7, 0.2, 0.6, 0.1, 0.8, 0.45, 0, 0.7, 0.5, 0.9, 0.2, 1.12, 1.19, 1.15, 0.82, 0.68, 0.76, 0.5, 0, 0.3, 0.68, 0.775, 0.78, 0.85, 0.83, 0.97, 0.84, 0.93, 0.9, 1.01, 0.93, 0.98, 0.86, 0.84, 0.8, 0.87, 0.15, 0, 0.2, 0.72, 0.83, 0.8],
  [0, 0.05, 0.45, 0.74, 0.8, 0.855, 0.83, 0.8, 0.795, 0.79, 0.79, 0.86, 1.0, 0.95, 0.98, 0.92, 1.0, 0.94, 1.05, 0.7, 1.12, 1.05, 0.1, 0, 0.6, 0.3, 0.75, 0, 0.85, 0.55, 0.2, 0.9, 0.4, 0.95, 0.3, 0.6, 1.15, 1.21, 1.17, 0.85, 0.72, 0.8, 0.55, 0, 0.35, 0.7, 0.795, 0.8, 0.87, 0.85, 0.985, 0.86, 0.95, 0.92, 1.03, 0.95, 1.0, 0.88, 0.86, 0.82, 0.89, 0.2, 0, 0.25, 0.75, 0.85, 0.82],
  [0, 0.1, 0.55, 0.8, 0.86, 0.915, 0.89, 0.87, 0.865, 0.86, 0.86, 0.92, 1.05, 1.0, 1.03, 0.98, 1.05, 0.99, 1.09, 0.85, 1.16, 1.1, 0.2, 0, 0.45, 0.6, 0.85, 0.5, 0.95, 0.3, 0.8, 0.6, 0.3, 1.08, 0.7, 0.9, 1.2, 1.245, 1.2, 0.9, 0.81, 0.88, 0.7, 0.13, 0.55, 0.78, 0.865, 0.87, 0.93, 0.91, 1.045, 0.92, 1.0, 0.97, 1.08, 1.0, 1.04, 0.93, 0.92, 0.88, 0.94, 0.5, 0.13, 0.45, 0.86, 0.92, 0.86],
  [0, 0.25, 0.9, 0.96, 0.99, 1.015, 0.99, 0.97, 0.97, 0.975, 0.965, 1.01, 1.13, 1.09, 1.11, 1.07, 1.13, 1.08, 1.16, 0.97, 1.24, 1.22, 0.4, 0, 0.9, 0.75, 0.85, 0.88, 1.05, 0.7, 0.95, 1.0, 0.65, 1.18, 0.98, 0.95, 1.25, 1.31, 1.27, 1.0, 0.94, 0.985, 0.85, 0.45, 0.8, 0.95, 0.975, 0.98, 1.03, 1.01, 1.12, 1.0, 1.08, 1.05, 1.15, 1.09, 1.13, 1.03, 1.03, 1.0, 1.04, 0.7, 0.45, 0.75, 0.97, 1.02, 0.96],
  [0, 0.3, 0.95, 1.01, 1.03, 1.065, 1.04, 1.02, 1.02, 1.02, 1.01, 1.06, 1.17, 1.14, 1.16, 1.12, 1.18, 1.13, 1.2, 1.01, 1.27, 1.25, 0.5, 0, 1.24, 0.82, 0.88, 0.93, 1.14, 0.8, 1.05, 1.05, 0.8, 1.22, 1.05, 1.0, 1.3, 1.345, 1.3, 1.06, 0.99, 1.04, 0.91, 0.56, 0.87, 0.99, 1.02, 1.03, 1.09, 1.07, 1.17, 1.05, 1.12, 1.1, 1.2, 1.14, 1.17, 1.08, 1.08, 1.045, 1.09, 0.85, 0.57, 0.85, 1.02, 1.07, 1.02],
];

const DEFOCUS_COLORS = [
  '#D95319', '#4DBEEE', '#7E2F8E', '#77AC30', '#0072BD', '#D95319', '#4DBEEE', '#A2142F', '#0072BD',
  '#EDB120', '#77AC30', '#7E2F8E', '#A2142F', '#4DBEEE', '#A2142F', '#7E2F8E', '#D95319', '#EDB120',
  '#7E2F8E', '#7E2F8E', '#0072BD', '#77AC30', '#0000FF', '#FF0000',
];
const DEFOCUS_WIDTHS = [
  1.3, 1.2, 1.2, 1.2, 1.2, 1.2, 1.2, 1.3, 1.3, 1.3, 1.3, 1.2, 1.3, 1.2, 1.3, 1.3, 1.2, 1.2, 1.2, 1.2, 1.3, 1.3, 1.5, 2,
];

// ---------- chart tables ----------
const tempRows = TIME_T.map((t, k) => {
  const row: Record<string, number> = { t };
  LOOP_TEMPS.forEach((s, i) => { row[`loop${i}`] = s[k]; });
  return row;
});
const maxTempRows = [{ t: 9.5, v: MAX_TEMP }, { t: 16.5, v: MAX_TEMP }];
const setPointRows = [{ t: 9.5, v: SET_POINT_START }, { t: 9.5, v: SET_POINT }, { t: 16.5, v: SET_POINT }];

const defocusRows = TIME_D.map((t, k) => {
  const row: Record<string, number> = { t };
  DEFOCUS.forEach((s, i) => { row[`loop${i}`] = s[k]; });
  return row;
});
const zeroRows = [{ t: 9.5, v: 0 }, { t: 16.5, v: 0 }];

const tickStyle = { fill: INK, fontSize: 12.5, fontFamily: FONT };

function TempLegend() {
  return (
    <div style={{ position: 'relative', width: 158, height: 35, boxSizing: 'border-box', border: `1px solid ${INK}`, background: '#fff', fontFamily: FONT, fontSize: 11.5, color: '#000' }}>
      <svg width={34} height={33} style={{ position: 'absolute', left: 3, top: 0 }}>
        <line x1={1} x2={30} y1={9.5} y2={9.5} stroke="#FF0000" strokeWidth={1.5} strokeDasharray="1.5 1.2" />
        <line x1={1} x2={18} y1={25} y2={25} stroke="#FF0000" strokeWidth={4} />
      </svg>
      <span style={{ position: 'absolute', left: 36, top: 2, whiteSpace: 'nowrap' }}>MaxTemp</span>
      <span style={{ position: 'absolute', left: 36, top: 18, whiteSpace: 'nowrap' }}>Temperature Set-point</span>
    </div>
  );
}

const textBase: React.CSSProperties = { position: 'absolute', fontFamily: FONT, whiteSpace: 'nowrap' };

export default function App() {
  return (
    <div style={{ position: 'absolute', left: 0, top: 0, width: 1227, height: 508, background: '#fff', overflow: 'hidden' }}>
      <div style={{ position: 'absolute', left: 0, top: 0 }}>
        <LineChart width={620} height={508} data={tempRows} margin={{ top: 25, right: 8, bottom: 0, left: 0 }}>
          <CartesianGrid stroke={GRID} strokeDasharray="1 2" />
          <XAxis dataKey="t" type="number" domain={[9.5, 16.5]} ticks={HOUR_TICKS} interval={0} height={45}
            tickSize={-5} tickMargin={14} stroke={INK} tick={tickStyle} />
          <XAxis xAxisId="top" dataKey="t" type="number" orientation="top" domain={[9.5, 16.5]} ticks={HOUR_TICKS}
            interval={0} height={0} tickSize={-5} tick={false} stroke={INK} />
          <YAxis type="number" domain={[370, 405]} ticks={TEMP_TICKS} interval={0} width={53}
            tickSize={-5} tickMargin={11} stroke={INK} tick={tickStyle} />
          <YAxis yAxisId="right" orientation="right" type="number" domain={[370, 405]} ticks={TEMP_TICKS}
            interval={0} width={0} tickSize={-5} tick={false} stroke={INK} />
          {LOOP_TEMPS.map((_, i) => (
            <Line key={i} type="monotone" dataKey={`loop${i}`} stroke={LOOP_TEMP_COLORS[i]} strokeWidth={1}
              dot={false} activeDot={false} isAnimationActive={false} />
          ))}
          <Line xAxisId="top" yAxisId="right" data={maxTempRows} dataKey="v" stroke="#FF0000" strokeWidth={1.5}
            strokeDasharray="1.5 1.5" dot={false} activeDot={false} isAnimationActive={false} />
          <Line type="linear" data={setPointRows} dataKey="v" stroke="#FF0000" strokeWidth={4} strokeDasharray="18 19"
            dot={false} activeDot={false} isAnimationActive={false} />
          <Legend layout="vertical" align="center" verticalAlign="middle" content={() => <TempLegend />}
            wrapperStyle={{ left: 442, top: 36, width: 158, height: 35 }} />
        </LineChart>
      </div>

      <div style={{ position: 'absolute', left: 612, top: 0 }}>
        <LineChart width={615} height={508} data={defocusRows} margin={{ top: 17, right: 2, bottom: 0, left: 0 }}>
          <CartesianGrid stroke={GRID} strokeDasharray="1 2" />
          <XAxis dataKey="t" type="number" domain={[9.5, 16.5]} ticks={HOUR_TICKS} interval={0} height={45}
            tickSize={-5} tickMargin={14} stroke={INK} tick={tickStyle} />
          <XAxis xAxisId="top" dataKey="t" type="number" orientation="top" domain={[9.5, 16.5]} ticks={HOUR_TICKS}
            interval={0} height={0} tickSize={-5} tick={false} stroke={INK} />
          <YAxis type="number" domain={[0, 2]} ticks={ANGLE_TICKS} interval={0} width={52}
            tickSize={-5} tickMargin={11} stroke={INK} tick={tickStyle} />
          <YAxis yAxisId="right" orientation="right" type="number" domain={[0, 2]} ticks={ANGLE_TICKS}
            interval={0} width={0} tickSize={-5} tick={false} stroke={INK} />
          <Line xAxisId="top" yAxisId="right" data={zeroRows} dataKey="v" stroke="#77AC30" strokeWidth={1.3}
            dot={false} activeDot={false} isAnimationActive={false} />
          {DEFOCUS.map((_, i) => (
            <Line key={i} type="monotone" dataKey={`loop${i}`} stroke={DEFOCUS_COLORS[i]} strokeWidth={DEFOCUS_WIDTHS[i]}
              dot={false} activeDot={false} isAnimationActive={false} />
          ))}
        </LineChart>
      </div>

      <div style={{ ...textBase, left: 53, width: 559, top: 6, textAlign: 'center', fontWeight: 'bold', fontSize: 12.5, lineHeight: '14px', color: '#000' }}>
        Loops Outlet Temperature (No Valve Control)
      </div>
      <div style={{ ...textBase, left: 664, width: 561, top: 0, textAlign: 'center', fontWeight: 'bold', fontSize: 12.5, lineHeight: '14px', color: '#000' }}>
        Loops Defocusing Actions
      </div>
      <div style={{ ...textBase, left: 53, width: 559, top: 484, textAlign: 'center', fontSize: 13.5, lineHeight: '16px', color: INK }}>
        Time (h)
      </div>
      <div style={{ ...textBase, left: 664, width: 561, top: 484, textAlign: 'center', fontSize: 13.5, lineHeight: '16px', color: INK }}>
        Time (h)
      </div>
      <div style={{ ...textBase, left: 17, top: 244, fontSize: 13.5, lineHeight: '16px', color: INK, transform: 'translate(-50%, -50%) rotate(-90deg)' }}>
        Temperature (ºC)
      </div>
      <div style={{ ...textBase, left: 628, top: 240, fontSize: 13.5, lineHeight: '16px', color: INK, transform: 'translate(-50%, -50%) rotate(-90deg)' }}>
        Defocus Angle (deg)
      </div>
    </div>
  );
}
